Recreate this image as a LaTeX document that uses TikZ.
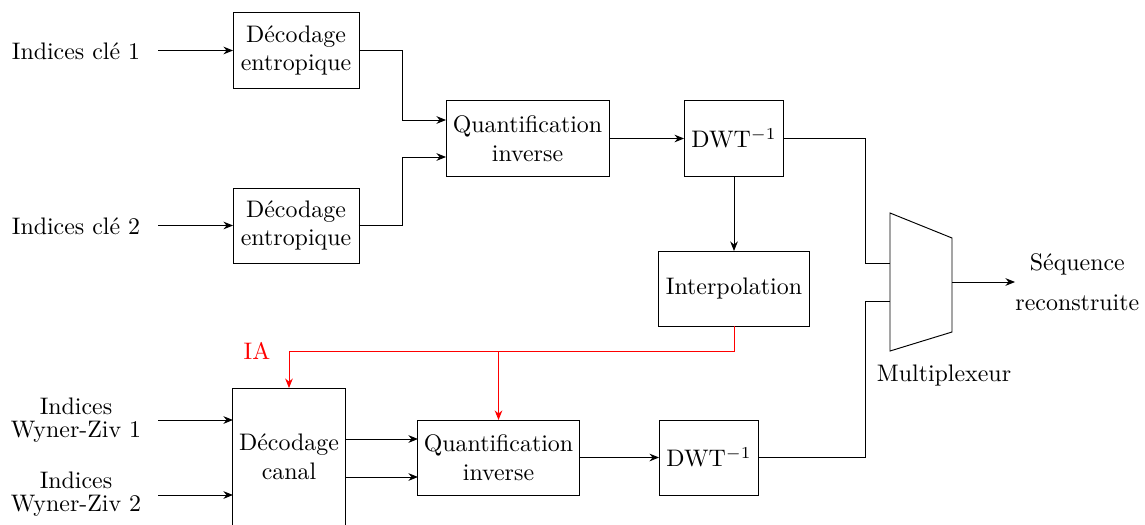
\documentclass[tikz,border=0pt]{standalone}
\usetikzlibrary{arrows.meta}
\begin{document}
\begin{tikzpicture}[x=0.4184pt,y=-0.4184pt,
  >={Stealth[length=4pt,width=3.2pt]},
  blk/.style={draw, inner sep=2pt, outer sep=0pt, minimum height=31.4pt, align=center},
  lbl/.style={align=center, inner sep=0pt},
  wire/.style={draw, line width=0.4pt},
  side/.style={draw=red, text=red}]
\useasboundingbox (0,0) rectangle (1145,524);
% blocks
\node[blk, minimum width=52.7pt] (de1) at (296,50.5) {Décodage\\entropique};
\node[blk, minimum width=52.7pt] (de2) at (296,225.5) {Décodage\\entropique};
\node[blk, minimum width=68.2pt] (qt) at (527.5,138.5) {Quantification\\inverse};
\node[blk, minimum width=41.8pt] (dwt) at (734,138.5) {DWT$^{-1}$};
\node[blk, minimum width=62.8pt] (interp) at (734,288.5) {Interpolation};
\node[blk, minimum width=46.9pt, minimum height=57.7pt] (canal) at (289,457) {Décodage\\canal};
\node[blk, minimum width=67.4pt] (qb) at (498.5,457.5) {Quantification\\inverse};
\node[blk, minimum width=41.8pt] (dwtb) at (709,457.5) {DWT$^{-1}$};
% labels
\node[lbl] (in1) at (76,51) {Indices clé 1};
\node[lbl] (in2) at (76,226) {Indices clé 2};
\node[lbl] (wz1) at (76,420) {Indices\\[-2.4pt]Wyner-Ziv 1};
\node[lbl] (wz2) at (76,494.5) {Indices\\[-2.4pt]Wyner-Ziv 2};
\coordinate (s1) at (158,50.5);
\coordinate (s2) at (158,225.5);
\coordinate (s3) at (158,420);
\coordinate (s4) at (158,495);
% multiplexer
\coordinate (m1) at (890,213);
\coordinate (m2) at (952,238);
\coordinate (m3) at (952,332);
\coordinate (m4) at (890,351);
\draw (m1) -- (m2) -- (m3) -- (m4) -- cycle;
\coordinate (min1) at (890,263);
\coordinate (min2) at (890,301);
\coordinate (mout) at (952,282);
\coordinate (oend) at (1015,282);
\node[lbl, anchor=west] (seq) at (oend) {Séquence\\[4.5pt]reconstruite};
\node[lbl] (mux) at (944,376) {Multiplexeur};
\node[lbl, text=red] (ia) at (257,351) {IA};
% connectors
\draw[->] (s1) -- (de1.west |- s1);
\draw[->] (s2) -- (de2.west |- s2);
\draw[->] (s3) -- (canal.west |- s3);
\draw[->] (s4) -- (canal.west |- s4);
\draw[->] (de1.east) -- (402,50.5) |- (qt.west |- 0,120);
\draw[->] (de2.east) -- (402,225.5) |- (qt.west |- 0,157);
\draw[->] (qt.east) -- (dwt.west);
\draw[->] (dwt.south) -- (interp.north);
\draw (dwt.east) -- (865,138.5) |- (min1);
\draw (dwtb.east) -- (865,457.5) |- (min2);
\draw[->] (mout) -- (oend);
\draw[->] (canal.east |- 0,439) -- (qb.west |- 0,439);
\draw[->] (canal.east |- 0,477) -- (qb.west |- 0,477);
\draw[->] (qb.east) -- (dwtb.west);
\draw[red,->] (interp.south) -- (734,351) -| (canal.north);
\draw[red,->] (qb.north |- 0,351) -- (qb.north);
\end{tikzpicture}
\end{document}
